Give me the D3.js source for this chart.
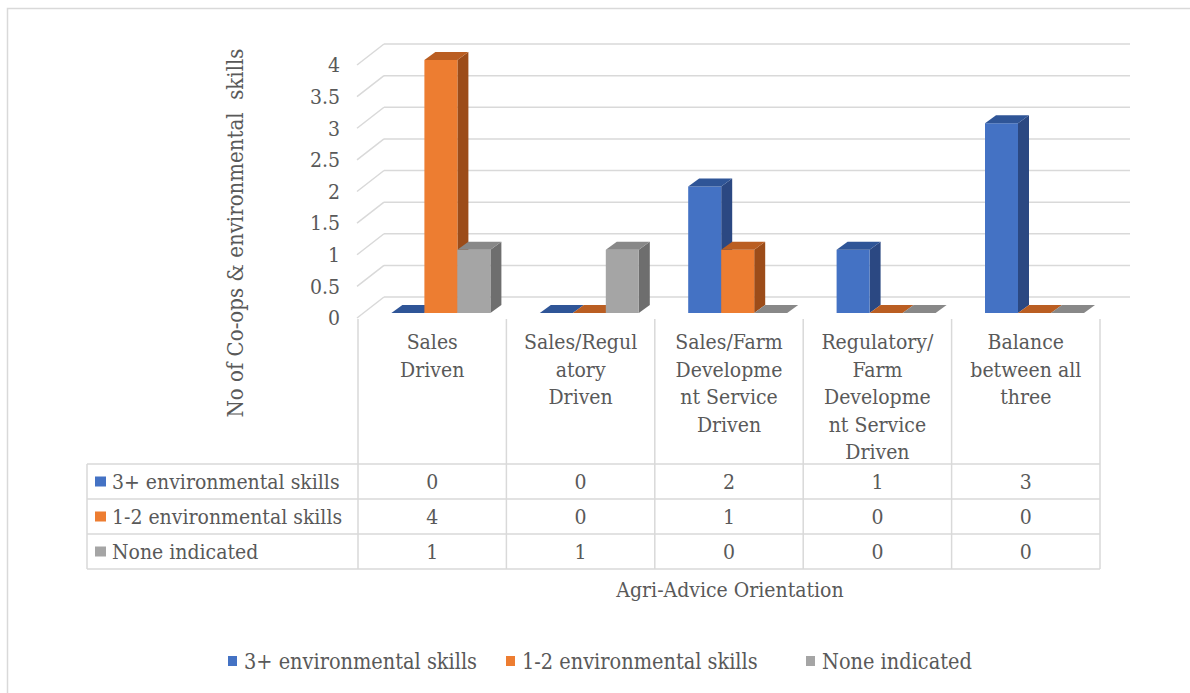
<!DOCTYPE html>
<html>
<head>
<meta charset="utf-8">
<script src="https://cdn.jsdelivr.net/npm/d3@7"></script>
<style>
  html, body { margin: 0; padding: 0; background: #fff; }
  svg { display: block; }
</style>
</head>
<body>
<svg id="chart" width="1190" height="693"></svg>
<script>
// ---- data ----
const categories = ["Sales Driven", "Sales/Regulatory Driven", "Sales/Farm Development Service Driven", "Regulatory/Farm Development Service Driven", "Balance between all three"];
const categoryLines = [
  ["Sales", "Driven"],
  ["Sales/Regul", "atory", "Driven"],
  ["Sales/Farm", "Developme", "nt Service", "Driven"],
  ["Regulatory/", "Farm", "Developme", "nt Service", "Driven"],
  ["Balance", "between all", "three"]
];
const seriesNames = ["3+ environmental skills", "1-2 environmental skills", "None indicated"];
const threePlus = [0, 0, 2, 1, 3];
const oneTwo = [4, 0, 1, 0, 0];
const noneIndicated = [1, 1, 0, 0, 0];
const seriesValues = [threePlus, oneTwo, noneIndicated];
const yTicks = [0, 0.5, 1, 1.5, 2, 2.5, 3, 3.5, 4];
const yTitle = "No of Co-ops & environmental  skills";
const xTitle = "Agri-Advice Orientation";

// ---- styles ----
const frontColors = ["#4472C4", "#ED7D31", "#A5A5A5"];
const topColors = ["#2F5597", "#BA5E22", "#888888"];
const sideColors = ["#2B4882", "#9C4C19", "#6E6E6E"];
const gridColor = "#D9D9D9";
const textColor = "#595959";
const fontSize = 21;
const fontFamily = "'DejaVu Serif Condensed', 'DejaVu Serif'";

const svg = d3.select("#chart");

function addText(parent, size) {
  return parent.append("text").style("font-family", fontFamily).style("font-stretch", "condensed")
    .style("font-size", (size || fontSize) + "px").attr("fill", textColor);
}

// outer border
svg.append("rect").attr("x", 7.5).attr("y", 8.5).attr("width", 1250).attr("height", 750)
  .attr("fill", "none").attr("stroke", gridColor).attr("stroke-width", 1.5);

// scales
const x = d3.scaleBand().domain(categories).range([358, 1100]);
const y = d3.scaleLinear().domain([0, 4]).range([318, 65]);
const xs = d3.scaleBand().domain(d3.range(seriesNames.length)).range([27, 126]);
const depth = { dx: 27, dy: -21 };
const barOff = { dx: 6.4, dy: -5 };
const barDepth = { dx: 11, dy: -8 };

// gridlines
const g = svg.append("g");
yTicks.forEach(t => {
  const yf = y(t);
  g.append("line").attr("x1", 357).attr("y1", yf).attr("x2", 357 + depth.dx).attr("y2", yf + depth.dy)
    .attr("stroke", gridColor).attr("stroke-width", 1.5);
  g.append("line").attr("x1", 357 + depth.dx).attr("y1", yf + depth.dy).attr("x2", 1130).attr("y2", yf + depth.dy)
    .attr("stroke", gridColor).attr("stroke-width", 1.5);
});

// y tick labels
const tickG = svg.append("g");
yTicks.forEach(t => {
  addText(tickG).attr("x", 340).attr("y", y(t)).attr("dy", "0.35em").attr("text-anchor", "end").text(t);
});

// bars
const bars = svg.append("g");
const P = pts => pts.map(p => p.join(",")).join(" ");
categories.forEach((c, i) => {
  seriesValues.forEach((vals, s) => {
    const v = vals[i];
    const xl = x(c) + xs(s) + barOff.dx;
    const xr = xl + xs.bandwidth();
    const yb = y(0) + barOff.dy;
    const yt = y(v) + barOff.dy;
    if (v > 0) {
      bars.append("polygon").attr("points", P([[xr, yt], [xr + barDepth.dx, yt + barDepth.dy], [xr + barDepth.dx, yb + barDepth.dy], [xr, yb]]))
        .attr("fill", sideColors[s]);
      bars.append("rect").attr("x", xl).attr("y", yt).attr("width", xr - xl).attr("height", yb - yt)
        .attr("fill", frontColors[s]);
    }
    bars.append("polygon").attr("points", P([[xl, yt], [xl + barDepth.dx, yt + barDepth.dy], [xr + barDepth.dx, yt + barDepth.dy], [xr, yt]]))
      .attr("fill", topColors[s]);
  });
});

// data table
const tbl = svg.append("g");
const rowTops = [464, 499, 534, 569];
const tableLeft = 87;
const colEdges = categories.map(c => x(c)).concat([x.range()[1]]);
colEdges.forEach(cx => {
  tbl.append("line").attr("x1", cx).attr("y1", 319).attr("x2", cx).attr("y2", rowTops[3])
    .attr("stroke", gridColor).attr("stroke-width", 1.5);
});
tbl.append("line").attr("x1", tableLeft).attr("y1", rowTops[0]).attr("x2", tableLeft).attr("y2", rowTops[3])
  .attr("stroke", gridColor).attr("stroke-width", 1.5);
rowTops.forEach(ry => {
  tbl.append("line").attr("x1", tableLeft).attr("y1", ry).attr("x2", x.range()[1]).attr("y2", ry)
    .attr("stroke", gridColor).attr("stroke-width", 1.5);
});
categories.forEach((c, i) => {
  const t = addText(tbl).attr("text-anchor", "middle");
  categoryLines[i].forEach((ln, k) => {
    t.append("tspan").attr("x", x(c) + x.bandwidth() / 2).attr("y", 349 + k * 27.5).text(ln);
  });
});
seriesNames.forEach((name, s) => {
  const cy = (rowTops[s] + rowTops[s + 1]) / 2;
  tbl.append("rect").attr("x", 95).attr("y", cy - 5).attr("width", 11).attr("height", 10).attr("fill", frontColors[s]);
  addText(tbl).attr("x", 112).attr("y", cy).attr("dy", "0.35em").text(name);
  categories.forEach((c, i) => {
    addText(tbl).attr("x", x(c) + x.bandwidth() / 2).attr("y", cy).attr("dy", "0.35em")
      .attr("text-anchor", "middle").text(seriesValues[s][i]);
  });
});

// axis titles
addText(svg).attr("x", 730).attr("y", 590).attr("dy", "0.35em").attr("text-anchor", "middle").text(xTitle);
addText(svg, 22).attr("transform", "translate(235,233) rotate(-90)").attr("dy", "0.35em")
  .attr("text-anchor", "middle").style("white-space", "pre").text(yTitle);

// legend
const legendX = [228, 506, 806];
seriesNames.forEach((name, s) => {
  svg.append("rect").attr("x", legendX[s]).attr("y", 656).attr("width", 9).attr("height", 10).attr("fill", frontColors[s]);
  addText(svg, 21.5).attr("x", legendX[s] + 16).attr("y", 661).attr("dy", "0.35em").text(name);
});
</script>
</body>
</html>
